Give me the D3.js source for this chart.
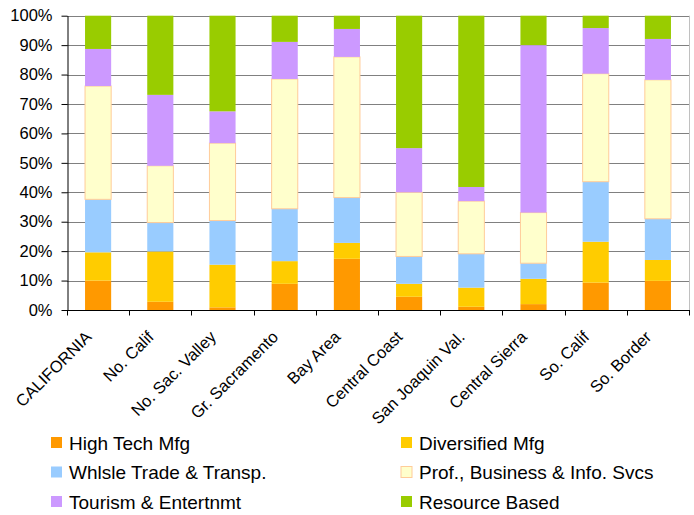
<!DOCTYPE html>
<html><head><meta charset="utf-8">
<script src="https://cdn.jsdelivr.net/npm/d3@7"></script>
<style>body{margin:0;background:#fff}svg{display:block;font-family:"Liberation Sans",Arial,sans-serif}</style>
</head><body><svg id="c" width="694" height="515"></svg>
<script>
const categories = ["CALIFORNIA","No. Calif","No. Sac. Valley","Gr. Sacramento","Bay Area","Central Coast","San Joaquin Val.","Central Sierra","So. Calif","So. Border"];
const seriesNames = ["High Tech Mfg","Diversified Mfg","Whlsle Trade & Transp.","Prof., Business & Info. Svcs","Tourism & Entertnmt","Resource Based"];
const highTech    = [10.0, 2.8, 0.9, 8.9, 17.4, 4.5, 1.1, 2.0, 9.3, 9.9];
const diversified = [9.6, 17.1, 14.5, 7.7, 5.4, 4.4, 6.5, 8.6, 13.9, 7.1];
const whlsle      = [18.0, 9.8, 15.0, 17.8, 15.4, 9.3, 11.5, 5.3, 20.4, 14.0];
const profBiz     = [38.5, 19.3, 26.3, 44.1, 47.8, 21.8, 17.9, 17.2, 36.7, 47.2];
const tourism     = [12.6, 24.1, 10.8, 12.6, 9.5, 15.0, 4.8, 56.9, 15.5, 13.9];
const resource    = [11.3, 26.9, 32.5, 8.9, 4.5, 45.0, 58.2, 10.0, 4.2, 7.9];
const yTicks = [0,10,20,30,40,50,60,70,80,90,100];

const seriesData = [highTech, diversified, whlsle, profBiz, tourism, resource];
const colors = ["#ff9900","#ffcc00","#99ccff","#ffffcc","#cc99ff","#99cc00"];
const strokes = [null,null,null,"#ffcc99",null,null];

const rows = categories.map((c,i)=>{const r={cat:c}; seriesNames.forEach((s,j)=>r[s]=seriesData[j][i]); return r;});
const stacked = d3.stack().keys(seriesNames)(rows);

const svg = d3.select("#c");
const L=67, R=689, T=15.7, B=310;
const x = d3.scaleBand().domain(categories).range([L,R]).paddingInner(0.58).paddingOuter(0.29);
const y = d3.scaleLinear().domain([0,100]).range([B,T]);

// gridlines
svg.append("g").selectAll("line").data(yTicks.filter(t=>t>0)).join("line")
  .attr("x1",L).attr("x2",R).attr("y1",d=>Math.round(y(d))+0.5).attr("y2",d=>Math.round(y(d))+0.5)
  .attr("stroke","#808080").attr("stroke-width",1);
svg.append("line").attr("x1",R+0.5).attr("x2",R+0.5).attr("y1",T).attr("y2",B).attr("stroke","#c0c0c0");

// bars
svg.append("g").selectAll("g").data(stacked).join("g")
  .attr("fill",(d,i)=>colors[i])
  .each(function(s,i){
    d3.select(this).selectAll("rect").data(s).join("rect")
      .attr("x",d=>x(d.data.cat)).attr("width",x.bandwidth())
      .attr("y",d=>y(d[1])).attr("height",d=>y(d[0])-y(d[1]))
      .attr("stroke",strokes[i]||"none").attr("stroke-width",1);
  });

// y axis
const ya = svg.append("g").attr("transform",`translate(${L+0.5},0)`)
  .call(d3.axisLeft(y).tickValues(yTicks).tickFormat(d=>d+"%").tickSizeInner(6).tickSizeOuter(0));
ya.select(".domain").attr("stroke","#000");
ya.selectAll(".tick line").attr("stroke","#000");
ya.selectAll("text").attr("font-size","16.5px").attr("fill","#000").attr("x",-15).attr("font-family","Liberation Sans, Arial, sans-serif");

// x axis
const xa = svg.append("g").attr("transform",`translate(0,${B+0.5})`);
xa.append("line").attr("x1",L).attr("x2",R+1).attr("stroke","#000");
const bounds = d3.range(categories.length+1).map(i=>L+i*(R-L)/categories.length);
xa.selectAll("line.tk").data(bounds).join("line").attr("class","tk")
  .attr("x1",d=>Math.round(d)+0.5).attr("x2",d=>Math.round(d)+0.5).attr("y1",0).attr("y2",5).attr("stroke","#000");
xa.selectAll("text").data(categories).join("text")
  .attr("transform",d=>`translate(${x(d)+x.bandwidth()/2-5.5},${27.5}) rotate(-45)`)
  .attr("text-anchor","end").attr("font-size","16.5px").attr("fill","#000").text(d=>d);

// legend
const lg = svg.append("g");
seriesNames.forEach((s,i)=>{
  const col=i%2, row=Math.floor(i/2);
  const gx = col===0?51:401, gy = 443+row*29.5;
  lg.append("rect").attr("x",gx).attr("y",gy-6).attr("width",11).attr("height",11)
    .attr("fill",colors[i]).attr("stroke",strokes[i]||"none");
  lg.append("text").attr("x",gx+18).attr("y",gy+6.5).attr("font-size","19px").attr("fill","#000").text(s);
});
</script></body></html>
